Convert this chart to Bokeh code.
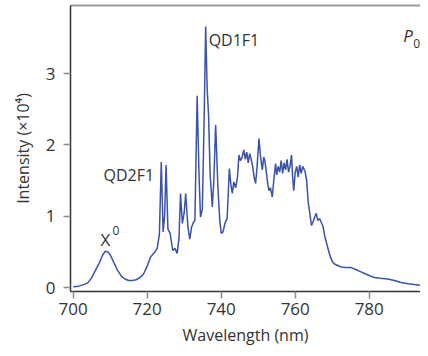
from bokeh.plotting import figure
from bokeh.models import LinearAxis, FixedTicker, Label, Range1d, ColumnDataSource
from bokeh.embed import file_html
from bokeh.resources import INLINE

# Emission spectrum (wavelength in nm, intensity in 10^4 counts)
wavelength = [
    700.0, 701.5, 703.0, 704.0, 705.0, 706.0, 707.0, 708.0, 708.7, 709.4,
    710.1, 711.0, 712.0, 713.0, 714.0, 715.0, 716.0, 717.0, 718.0, 719.0,
    720.0, 720.9, 721.8, 722.7, 723.3, 723.8, 724.3, 724.7, 725.1, 725.6,
    726.2, 726.9, 727.5, 728.1, 728.6, 729.0, 729.5, 730.0, 730.4, 731.0,
    731.5, 732.0, 732.4, 732.9, 733.5, 734.0, 734.4, 734.9, 735.4, 735.8,
    736.2, 736.6, 737.0, 737.6, 738.0, 738.5, 739.1, 739.6, 740.0, 740.5,
    741.0, 741.6, 742.2, 742.6, 743.0, 743.4, 743.9, 744.4, 744.8, 745.2,
    745.6, 746.1, 746.5, 746.9, 747.3, 747.7, 748.1, 748.5, 748.9, 749.3,
    749.7, 750.2, 750.6, 751.1, 751.5, 751.8, 752.2, 752.6, 752.9, 753.3,
    753.8, 754.2, 754.7, 755.0, 755.4, 755.8, 756.2, 756.6, 757.0, 757.4,
    757.8, 758.2, 758.6, 759.0, 759.3, 759.6, 760.0, 760.4, 760.8, 761.2,
    761.6, 762.0, 762.3, 762.7, 763.1, 763.5, 763.9, 764.4, 764.8, 765.2,
    765.7, 766.1, 766.6, 767.0, 767.5, 768.0, 768.5, 769.0, 769.5, 770.0,
    770.6, 771.5, 772.4, 773.5, 775.1, 776.5, 777.8, 779.5, 781.4, 783.0,
    785.0, 786.8, 788.6, 790.5, 792.2, 794.0, 796.0,
]
intensity = [
    0.01, 0.02, 0.045, 0.07, 0.14, 0.24, 0.34, 0.46, 0.51, 0.50,
    0.45, 0.35, 0.24, 0.16, 0.12, 0.10, 0.10, 0.11, 0.14, 0.19,
    0.30, 0.43, 0.48, 0.55, 0.75, 1.76, 0.78, 1.00, 1.72, 0.82,
    0.76, 0.52, 0.55, 0.48, 0.70, 1.32, 0.90, 1.05, 1.32, 0.85,
    0.68, 0.85, 0.90, 0.95, 2.69, 1.60, 0.99, 1.10, 2.40, 3.66,
    2.80, 2.40, 1.60, 1.13, 1.50, 2.28, 1.41, 0.95, 0.76, 0.78,
    0.90, 0.97, 1.67, 1.45, 1.32, 1.48, 1.40, 1.55, 1.86, 1.78,
    1.82, 1.93, 1.80, 1.90, 1.75, 1.88, 1.80, 1.70, 1.55, 1.46,
    1.70, 2.09, 1.85, 1.65, 1.83, 1.78, 1.62, 1.45, 1.36, 1.40,
    1.27, 1.50, 1.74, 1.58, 1.70, 1.62, 1.78, 1.60, 1.75, 1.65,
    1.80, 1.62, 1.70, 1.86, 1.55, 1.36, 1.62, 1.70, 1.55, 1.72,
    1.60, 1.70, 1.67, 1.62, 1.50, 1.20, 1.06, 0.87, 0.92, 0.98,
    1.04, 0.94, 0.97, 0.92, 0.86, 0.72, 0.62, 0.52, 0.43, 0.37,
    0.33, 0.31, 0.29, 0.28, 0.28, 0.25, 0.22, 0.18, 0.14, 0.13,
    0.12, 0.10, 0.07, 0.055, 0.042, 0.03, 0.018,
]
x_ticks = [700, 720, 740, 760, 780]
y_ticks = [0, 1, 2, 3]

FONT = "Open Sans"
TXT = "#333333"

src = ColumnDataSource(data=dict(wl=wavelength, inten=intensity))

p = figure(width=420, height=348, output_backend="svg", toolbar_location=None,
           x_range=Range1d(699.27, 793.86), y_range=Range1d(-0.055, 3.956),
           min_border_left=70, min_border_right=0, min_border_top=5,
           min_border_bottom=57,
           x_axis_label="Wavelength (nm)", y_axis_label="Intensity (×10⁴)")
p.outline_line_color = None
p.grid.visible = False
p.background_fill_color = "white"
p.border_fill_color = "white"

p.line("wl", "inten", source=src, line_color="#3a52a8", line_width=1.5)

for ax, ticks in ((p.xaxis[0], x_ticks), (p.yaxis[0], y_ticks)):
    ax.ticker = FixedTicker(ticks=ticks)
    ax.axis_line_color = "#333333"
    ax.axis_line_width = 1.5
    ax.major_tick_line_color = "#8c8c8c"
    ax.major_tick_line_width = 1.5
    ax.major_tick_out = 7
    ax.major_tick_in = 0
    ax.minor_tick_line_color = None
    ax.major_label_text_font = FONT
    ax.major_label_text_font_size = "17px"
    ax.major_label_text_color = TXT
    ax.axis_label_text_font = FONT
    ax.axis_label_text_font_size = "16px"
    ax.axis_label_text_font_style = "normal"
    ax.axis_label_text_color = TXT
p.xaxis[0].major_label_standoff = 4
p.xaxis[0].axis_label_standoff = 6
p.yaxis[0].major_label_standoff = 8
p.yaxis[0].axis_label_standoff = 9

top = LinearAxis(ticker=FixedTicker(ticks=[]), axis_line_color="#9a9a9a",
                 axis_line_width=2, major_tick_line_color=None,
                 minor_tick_line_color=None, major_label_text_font_size="0px",
                 major_tick_out=0, major_tick_in=0, major_label_standoff=0)
p.add_layout(top, "above")

def lab(x, y, t, size="16px", style="normal"):
    p.add_layout(Label(x=x, y=y, text=t, text_font=FONT, text_font_size=size,
                       text_font_style=style, text_color=TXT,
                       text_baseline="alphabetic", text_align="left"))

lab(736.6, 3.47, "QD1F1")
lab(708.2, 1.575, "QD2F1")
lab(707.4, 0.68, "X", size="17px")
lab(710.6, 0.80, "0", size="12px")
lab(789.2, 3.53, "P", size="17px", style="italic")
lab(791.9, 3.42, "0", size="12px")

open("out.html", "w").write(file_html(p, INLINE))
